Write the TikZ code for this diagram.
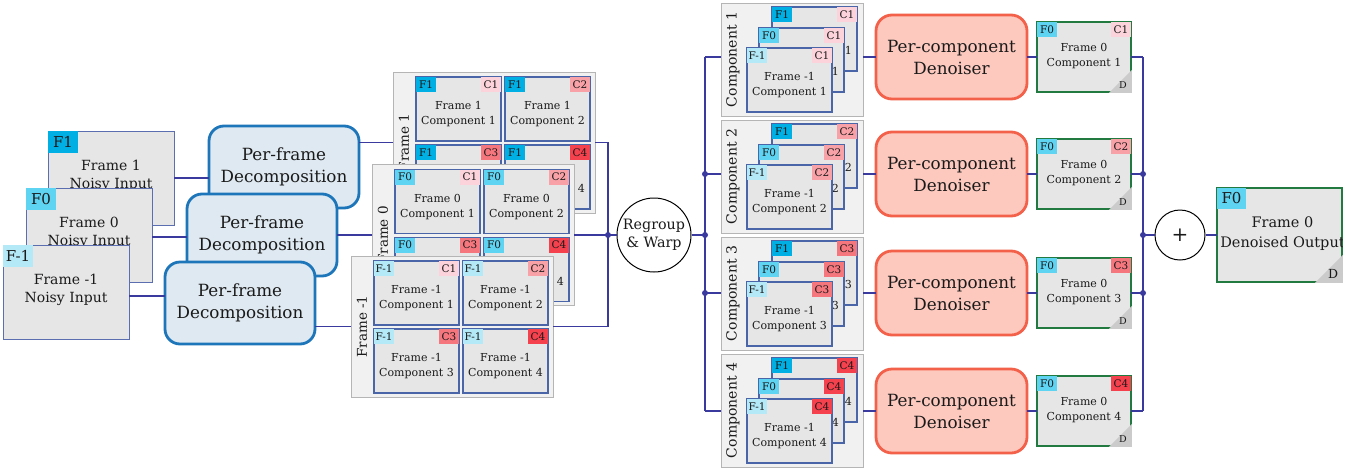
\documentclass[tikz,border=0pt]{standalone}
\usepackage{fontspec}
\setmainfont{DejaVu Serif}
\usetikzlibrary{calc}
\definecolor{lnc}{HTML}{3A3A9E}
\definecolor{cellbd}{HTML}{4A66A8}
\definecolor{inbd}{HTML}{5A6EB0}
\definecolor{cellfill}{HTML}{E6E6E6}
\definecolor{stkfill}{HTML}{F1F1F1}
\definecolor{stkbd}{HTML}{B5B5B5}
\definecolor{decfill}{HTML}{DFE9F1}
\definecolor{decbd}{HTML}{1E76BA}
\definecolor{denfill}{HTML}{FDC9BE}
\definecolor{denbd}{HTML}{F3614A}
\definecolor{outbd}{HTML}{237A40}
\definecolor{trig}{HTML}{CBCBCB}
\definecolor{txtc}{HTML}{1A1A1A}
\definecolor{fAcol}{HTML}{00AFE3}
\definecolor{fBcol}{HTML}{5ED3F2}
\definecolor{fCcol}{HTML}{B4E9F8}
\definecolor{c1col}{HTML}{FDD3DB}
\definecolor{c2col}{HTML}{F8A1A7}
\definecolor{c3col}{HTML}{F6767E}
\definecolor{c4col}{HTML}{F4414D}
\tikzset{
  every node/.style={text=txtc},
  conn/.style={draw=lnc, line width=1.6pt},
  cellbox/.style={draw=cellbd, fill=cellfill, line width=1.1pt, minimum width=85pt, minimum height=64pt, anchor=north west, inner sep=0pt, outer sep=0pt},
  celltxt/.style={align=center, font=\fontsize{11}{15}\selectfont, inner sep=0pt},
  smtag/.style={inner xsep=1.5pt, inner ysep=0pt, minimum height=15pt, minimum width=20pt, font=\fontsize{10.5}{10.5}\selectfont, outer sep=0pt},
  bigtag/.style={inner xsep=2pt, inner ysep=0pt, minimum height=22pt, minimum width=30pt, font=\fontsize{15}{15}\selectfont, outer sep=0pt, anchor=north west},
  stackbox/.style={draw=stkbd, fill=stkfill, line width=1pt, anchor=north west, inner sep=0pt, outer sep=0pt},
  stklbl/.style={rotate=90, inner sep=0pt, font=\fontsize{13.5}{13.5}\selectfont},
  complbl/.style={rotate=90, inner sep=0pt, font=\fontsize{14}{14}\selectfont},
  inbox/.style={draw=inbd, fill=cellfill, line width=1pt, minimum width=126pt, minimum height=94pt, anchor=north west, inner sep=0pt, outer sep=0pt},
  intxt/.style={align=center, inner sep=0pt, font=\fontsize{14}{18.5}\selectfont},
  decbox/.style={draw=decbd, fill=decfill, line width=2.8pt, rounded corners=15pt, minimum width=150pt, minimum height=82pt, anchor=north west, align=center, font=\fontsize{16.8}{21.5}\selectfont, outer sep=0pt},
  denbox/.style={draw=denbd, fill=denfill, line width=2.8pt, rounded corners=16pt, minimum width=151pt, minimum height=84pt, anchor=north west, align=center, font=\fontsize{16.8}{22}\selectfont, outer sep=0pt},
  ocellbox/.style={draw=outbd, fill=cellfill, line width=1.4pt, minimum width=94pt, minimum height=70pt, anchor=north west, inner sep=0pt, outer sep=0pt},
  finbox/.style={draw=outbd, fill=cellfill, line width=1.4pt, minimum width=125pt, minimum height=94pt, anchor=north west, inner sep=0pt, outer sep=0pt},
  dlbl/.style={inner sep=0pt, font=\fontsize{9.5}{9.5}\selectfont},
}
\newcommand\fcell[6]{%
  \node[cellbox] (#1) at (#2) {};
  \node[celltxt] (#1t) at ($(#1.center)+(0,5.5)$) {#6\\Component #5};
  \node[smtag, fill=#4, anchor=north west] (#1f) at (#1.north west) {#3};
  \node[smtag, fill=c#5col, anchor=north east] (#1c) at (#1.north east) {C#5};
}
\newcommand\fstack[6]{%
  \node[stackbox, minimum width=202pt, minimum height=141pt] (#1) at (#2,#3) {};
  \node[stklbl] (#1l) at ($(#1.west)+(11,0)$) {Frame #6};
  \fcell{#1a}{$(#1.north west)+(23,5)$}{#4}{#5}{1}{Frame #6}
  \fcell{#1b}{$(#1.north west)+(112,5)$}{#4}{#5}{2}{Frame #6}
  \fcell{#1c}{$(#1.north west)+(23,73)$}{#4}{#5}{3}{Frame #6}
  \fcell{#1d}{$(#1.north west)+(112,73)$}{#4}{#5}{4}{Frame #6}
}
\newcommand\cstack[3]{%
  \node[stackbox, minimum width=142pt, minimum height=113pt] (#1) at (721,#2) {};
  \node[complbl] (#1l) at ($(#1.west)+(12,0)$) {Component #3};
  \fcell{#1a}{$(#1.north west)+(51,4)$}{F1}{fAcol}{#3}{Frame 1}
  \fcell{#1b}{$(#1.north west)+(38,25)$}{F0}{fBcol}{#3}{Frame 0}
  \fcell{#1c}{$(#1.north west)+(26,45)$}{F-1}{fCcol}{#3}{Frame -1}
}
\newcommand\ocell[3]{%
  \node[ocellbox] (#1) at (1037,#2) {};
  \node[celltxt] (#1t) at ($(#1.center)+(0,-1)$) {Frame 0\\Component #3};
  \fill[trig] ($(#1.south east)+(-22,0.8)$) -- ($(#1.south east)+(0.8,0.8)$) -- ($(#1.south east)+(0.8,-22)$) -- cycle;
  \node[dlbl] (#1d) at ($(#1.south east)+(-8,-7)$) {D};
  \node[smtag, fill=fBcol, anchor=north west] (#1f) at (#1.north west) {F0};
  \node[smtag, fill=c#3col, anchor=north east] (#1c) at (#1.north east) {C#3};
}
\begin{document}
\begin{tikzpicture}[x=1pt, y=-1pt]
\fill[white] (0,0) rectangle (1363,472);
\useasboundingbox (0,0) rectangle (1363,472);

% noisy inputs
\node[inbox] (inA) at (48,131) {};
\node[intxt] (inAt) at ($(inA.center)+(0,-2)$) {Frame 1\\Noisy Input};
\node[bigtag, fill=fAcol] (inAf) at (inA.north west) {F1};
\node[inbox] (inB) at (26,188) {};
\node[intxt] (inBt) at ($(inB.center)+(0,-2)$) {Frame 0\\Noisy Input};
\node[bigtag, fill=fBcol] (inBf) at (inB.north west) {F0};
\node[inbox] (inC) at (3,245) {};
\node[intxt] (inCt) at ($(inC.center)+(0,-2)$) {Frame -1\\Noisy Input};
\node[bigtag, fill=fCcol] (inCf) at (inC.north west) {F-1};

% decompositions
\node[decbox] (dec1) at (209,126) {Per-frame\\Decomposition};
\node[decbox] (dec2) at (187,194) {Per-frame\\Decomposition};
\node[decbox] (dec3) at (165,262) {Per-frame\\Decomposition};

% frame stacks
\fstack{sA}{393}{72}{F1}{fAcol}{1}
\fstack{sB}{372}{164.5}{F0}{fBcol}{0}
\fstack{sC}{351}{256}{F-1}{fCcol}{-1}

% regroup
\node[draw, circle, fill=white, line width=1pt, minimum size=74pt, inner sep=0pt, align=center, font=\fontsize{14.3}{18}\selectfont] (rg) at (654,235) {Regroup\\\& Warp};
\coordinate (jA) at (608,235);
\coordinate (jB) at (705,235);
\coordinate (jC) at (1143,235);

% component stacks
\cstack{cs1}{3}{1}
\cstack{cs2}{120}{2}
\cstack{cs3}{237}{3}
\cstack{cs4}{354}{4}

% denoisers
\node[denbox] (den1) at (876,15) {Per-component\\Denoiser};
\node[denbox] (den2) at (876,132) {Per-component\\Denoiser};
\node[denbox] (den3) at (876,251) {Per-component\\Denoiser};
\node[denbox] (den4) at (876,369) {Per-component\\Denoiser};

% outputs
\ocell{oc1}{22}{1}
\ocell{oc2}{139}{2}
\ocell{oc3}{258}{3}
\ocell{oc4}{376}{4}

% plus and final
\node[draw, circle, fill=white, line width=1pt, minimum size=50pt, inner sep=0pt, font=\fontsize{20}{20}\selectfont] (pl) at (1180,235) {+};
\node[finbox] (fin) at (1217,188) {};
\begin{scope}
\clip (fin.north west) rectangle (fin.south east);
\node[intxt, font=\fontsize{14.5}{20}\selectfont] (fint) at ($(fin.center)+(3,-1)$) {Frame 0\\Denoised Output};
\end{scope}
\fill[trig] ($(fin.south east)+(-27,0.8)$) -- ($(fin.south east)+(0.8,0.8)$) -- ($(fin.south east)+(0.8,-27)$) -- cycle;
\node[inner sep=0pt, font=\fontsize{12.5}{12.5}\selectfont] (find) at ($(fin.south east)+(-9,-8)$) {D};
\node[bigtag, fill=fBcol, minimum height=21pt, minimum width=29pt] (finf) at (fin.north west) {F0};

% connectors
\draw[conn] (inA.east) -- (inA.east -| dec1.west);
\draw[conn] ($(inB.east)+(0,2)$) -- ($(inB.east -| dec2.west)+(0,2)$);
\draw[conn] ($(inC.east)+(0,4)$) -- ($(inC.east -| dec3.west)+(0,4)$);
\draw[conn] (dec1.east |- sA.west) -- (sA.west);
\draw[conn] (dec2.east |- sB.west) -- (sB.west);
\draw[conn] (dec3.east |- sC.west) -- (sC.west);
\draw[conn] (sA.east) -- (sA.east -| jA) -- (jA);
\draw[conn] (sB.east) -- (jA);
\draw[conn] (sC.east) -- (sC.east -| jA) -- (jA);
\draw[conn] (jA) -- (rg.west);
\draw[conn] (rg.east) -- (jB);
\draw[conn] (jB |- den1) -- (jB |- den4);
\foreach \i in {1,2,3,4} {
  \draw[conn] (jB |- den\i) -- (cs\i.west |- den\i);
  \draw[conn] (cs\i.east |- den\i) -- (den\i.west);
  \draw[conn] (den\i.east) -- (oc\i.west);
  \draw[conn] (oc\i.east) -- (jC |- oc\i);
}
\draw[conn] (jC |- oc1) -- (jC |- oc4);
\draw[conn] (jC) -- (pl.west);
\draw[conn] (pl.east) -- (fin.west);
\fill[lnc] (jA) circle (3pt);
\fill[lnc] (jB) circle (3pt);
\fill[lnc] (jB |- den2) circle (3pt);
\fill[lnc] (jB |- den3) circle (3pt);
\fill[lnc] (jC) circle (3pt);
\fill[lnc] (jC |- oc2) circle (3pt);
\fill[lnc] (jC |- oc3) circle (3pt);
\end{tikzpicture}
\end{document}
